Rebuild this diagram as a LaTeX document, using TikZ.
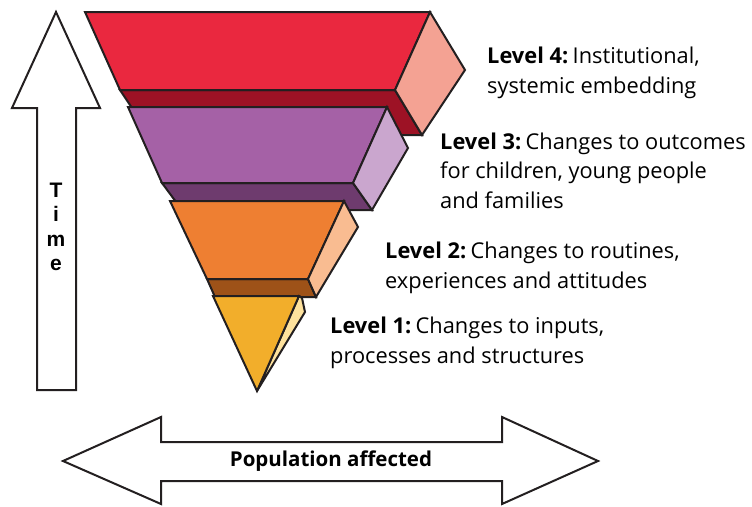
\documentclass[tikz,border=0pt]{standalone}
\usepackage{fontspec}
\setmainfont{Open Sans}
\newfontfamily\timefont{Liberation Sans}
\definecolor{ink}{HTML}{231F20}
\definecolor{redA}{HTML}{EA283F}
\definecolor{redB}{HTML}{9D1225}
\definecolor{redC}{HTML}{F4A293}
\definecolor{purA}{HTML}{A561A6}
\definecolor{purB}{HTML}{6E3B6E}
\definecolor{purC}{HTML}{CAA6CE}
\definecolor{ornA}{HTML}{EE7F32}
\definecolor{ornB}{HTML}{9E5218}
\definecolor{ornC}{HTML}{F9BC91}
\definecolor{yelA}{HTML}{F2AE2B}
\definecolor{yelC}{HTML}{FEE29D}
\newcommand{\lvl}[1]{\textbf{Level #1:}\hspace{4.5pt}}
\tikzset{
  face/.style={draw=ink, line width=2pt, line join=miter},
  bigarrow/.style={draw=ink, fill=white, line width=2pt, line join=miter},
  levellabel/.style={anchor=base west, align=left, inner sep=0pt,
    font=\fontsize{21.8}{29.5}\selectfont, text=black},
}
\begin{document}
\begin{tikzpicture}[x=1pt,y=-1pt]
\useasboundingbox (0,0) rectangle (752,506);
% Level 4
\fill[redB, face] (120,90) -- (395,90) -- (422,135) -- (150,135) -- cycle;
\fill[redA, face] (85,12) -- (430,12) -- (395,90) -- (120,90) -- cycle;
\fill[redC, face] (430,12) -- (465,70) -- (422,135) -- (395,90) -- cycle;
% Level 3
\fill[purB, face] (162,183) -- (353,183) -- (372,210) -- (182,210) -- cycle;
\fill[purA, face] (128,107) -- (387,107) -- (353,183) -- (162,183) -- cycle;
\fill[purC, face] (387,107) -- (408,148) -- (372,210) -- (353,183) -- cycle;
% Level 2
\fill[ornB, face] (207,279) -- (308,279) -- (316,297) -- (215,297) -- cycle;
\fill[ornA, face] (170,201) -- (344,201) -- (308,279) -- (207,279) -- cycle;
\fill[ornC, face] (344,201) -- (358,227) -- (316,297) -- (308,279) -- cycle;
% Level 1
\fill[yelC, face] (299,296) -- (302,298) -- (305,312) -- (257,391) -- cycle;
\fill[yelA, face] (213,296) -- (299,296) -- (257,391) -- cycle;
% Time arrow
\draw[bigarrow] (56,12) -- (100,108) -- (76,108) -- (76,390) -- (37,390) -- (37,108) -- (12,108) -- cycle;
\node[font=\timefont\bfseries\fontsize{21}{24.5}\selectfont, align=center, inner sep=0pt] (time) at (56,227) {T\\i\\m\\e};
% Population arrow
\draw[bigarrow] (63,461) -- (161,417) -- (161,442) -- (502,442) -- (502,417) -- (598,461) -- (502,504) -- (502,481) -- (161,481) -- (161,504) -- cycle;
\node[font=\bfseries\fontsize{20.5}{22}\selectfont, inner sep=0pt] (pop) at (331,461) {Population affected};
% Labels (base anchor = baseline of the last line)
\node[levellabel] (l4) at (487,93) {\lvl{4}Institutional,\\systemic embedding};
\node[levellabel] (l3) at (440,208) {\lvl{3}Changes to outcomes\\for children, young people\\and families};
\node[levellabel] (l2) at (385,288) {\lvl{2}Changes to routines,\\experiences and attitudes};
\node[levellabel] (l1) at (330,363) {\lvl{1}Changes to inputs,\\processes and structures};
\end{tikzpicture}
\end{document}
